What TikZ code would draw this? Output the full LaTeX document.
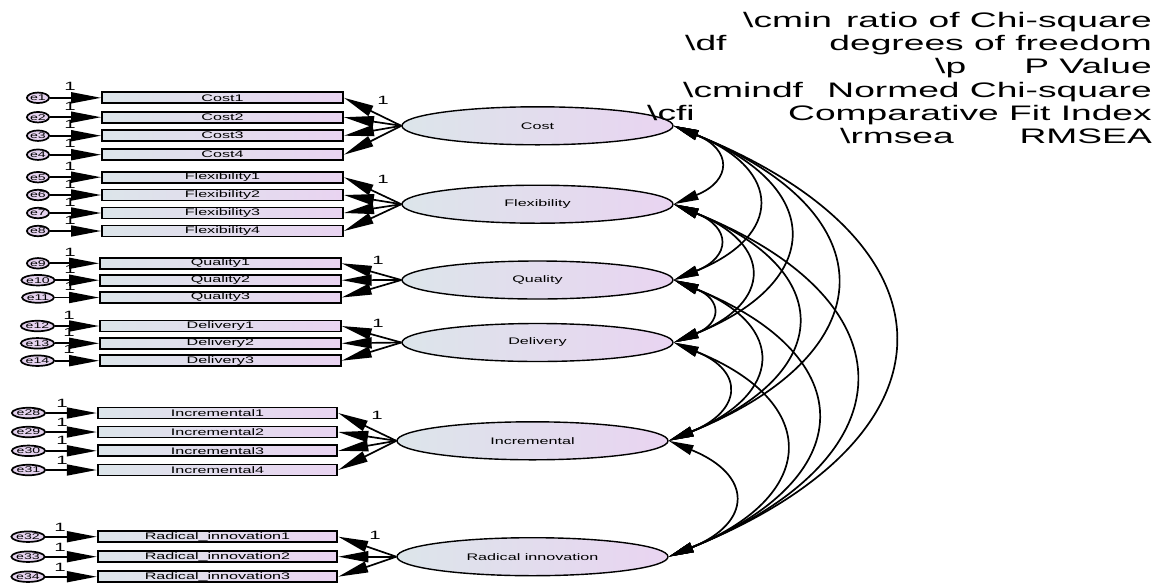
\documentclass[tikz,border=0pt]{standalone}
\usepackage{fontspec}
\setmainfont{Liberation Sans}[FakeStretch=1.7]
\newfontfamily\legfont{Liberation Sans}[FakeStretch=1.77]
\usetikzlibrary{arrows.meta,shapes.geometric}
\definecolor{gl}{RGB}{220,229,234}
\definecolor{gr}{RGB}{233,212,241}
\definecolor{ecol}{RGB}{228,210,238}
\begin{document}
\begin{tikzpicture}[x=1pt,y=-1pt,
  every node/.style={inner sep=0pt},
  obs/.style={draw, line width=1.9pt, left color=gl, right color=gr,
    minimum height=11pt, minimum width=#1, font=\fontsize{9.5}{10}\selectfont},
  lat/.style={ellipse, draw, line width=1.4pt, left color=gl, right color=gr,
    minimum width=271pt, minimum height=38pt, font=\fontsize{9.5}{10}\selectfont},
  err/.style={ellipse, draw, line width=1.7pt, fill=ecol,
    minimum width=22pt, minimum height=10.5pt, font=\fontsize{8.3}{8}\selectfont},
  one/.style={font=\fontsize{12}{12}\selectfont},
  leg/.style={font=\legfont\fontsize{21}{21}\selectfont},
  arr/.style={line width=1.7pt, -{Triangle[length=30pt,width=11pt]}},
  cov/.style={line width=1.7pt, {Triangle[length=25pt,width=10pt]}-{Triangle[length=25pt,width=10pt]}}
]
\useasboundingbox (0,0) rectangle (1163,587);

% latent variables
\node[lat] (cost) at (537.5,125.8) {Cost};
\node[lat] (flex) at (537.5,204.2) {Flexibility};
\node[lat] (qual) at (537.5,280) {Quality};
\node[lat] (deli) at (537.5,342.5) {Delivery};
\node[lat] (incr) at (532.5,440.8) {Incremental};
\node[lat] (radi) at (532.5,556.7) {Radical innovation};

% Cost indicators
\foreach \n/\e/\y in {1/1/97.8,2/2/117.2,3/3/135.7,4/4/154.7}{
  \node[obs=241pt] (cost\n) at (222.5,\y) {Cost\n};
  \node[err] (e\e) at (38,\y) {e\e};
  \node[one] (w\e) at (70,\y-11) {1};
  \draw[arr] (e\e.east) -- (cost\n.west);
  \draw[arr] (cost.west) -- (cost\n.east);
}
% Flexibility indicators
\foreach \n/\e/\y in {1/5/177.2,2/6/195,3/7/213,4/8/231}{
  \node[obs=241pt] (flex\n) at (222.5,\y) {Flexibility\n};
  \node[err] (e\e) at (38,\y) {e\e};
  \node[one] (w\e) at (70,\y-11) {1};
  \draw[arr] (e\e.east) -- (flex\n.west);
  \draw[arr] (flex.west) -- (flex\n.east);
}
% Quality indicators
\foreach \n/\e/\y in {1/9/263.3,2/10/280.2,3/11/297.5}{
  \node[obs=240.7pt] (qual\n) at (220.4,\y) {Quality\n};
  \node[err] (e\e) at (38,\y) {e\e};
  \node[one] (w\e) at (70,\y-11) {1};
  \draw[arr] (e\e.east) -- (qual\n.west);
  \draw[arr] (qual.west) -- (qual\n.east);
}
% Delivery indicators
\foreach \n/\e/\y in {1/12/326,2/13/343.3,3/14/360.7}{
  \node[obs=240.7pt] (deli\n) at (220.4,\y) {Delivery\n};
  \node[err] (e\e) at (37.5,\y) {e\e};
  \node[one] (w\e) at (69,\y-11) {1};
  \draw[arr] (e\e.east) -- (deli\n.west);
  \draw[arr] (deli.west) -- (deli\n.east);
}
% Incremental indicators
\foreach \n/\e/\y in {1/28/413,2/29/432,3/30/450.8,4/31/470}{
  \node[obs=239.6pt] (incr\n) at (217.5,\y) {Incremental\n};
  \node[err] (e\e) at (28.5,\y) {e\e};
  \node[one] (w\e) at (62,\y-10) {1};
  \draw[arr] (e\e.east) -- (incr\n.west);
  \draw[arr] (incr.west) -- (incr\n.east);
}
% Radical innovation indicators
\foreach \n/\e/\y in {1/32/536.7,2/33/556.7,3/34/576.7}{
  \node[obs=239.6pt] (radi\n) at (217.5,\y) {Radical\_innovation\n};
  \node[err] (e\e) at (28,\y) {e\e};
  \node[one] (w\e) at (60,\y-9.5) {1};
  \draw[arr] (e\e.east) -- (radi\n.west);
  \draw[arr] (radi.west) -- (radi\n.east);
}

% fixed loadings
\node[one] (fc) at (383,100) {1};
\node[one] (ff) at (383,179) {1};
\node[one] (fq) at (378,260) {1};
\node[one] (fd) at (378,323) {1};
\node[one] (fi) at (377,415) {1};
\node[one] (fr) at (375,535) {1};

% covariances
\draw[cov] (cost.east) .. controls +(-22:63pt) and +(22:63pt) .. (flex.east);
\draw[cov] (cost.east) .. controls +(-22:118pt) and +(22:118pt) .. (qual.east);
\draw[cov] (cost.east) .. controls +(-22:163pt) and +(22:163pt) .. (deli.east);
\draw[cov] (cost.east) .. controls +(-22:234pt) and +(22:234pt) .. (incr.east);
\draw[cov] (cost.east) .. controls +(-22:317pt) and +(22:317pt) .. (radi.east);
\draw[cov] (flex.east) .. controls +(-22:62pt) and +(22:62pt) .. (qual.east);
\draw[cov] (flex.east) .. controls +(-22:107pt) and +(22:107pt) .. (deli.east);
\draw[cov] (flex.east) .. controls +(-22:178pt) and +(22:178pt) .. (incr.east);
\draw[cov] (flex.east) .. controls +(-22:261pt) and +(22:261pt) .. (radi.east);
\draw[cov] (qual.east) .. controls +(-22:52pt) and +(22:52pt) .. (deli.east);
\draw[cov] (qual.east) .. controls +(-22:123pt) and +(22:123pt) .. (incr.east);
\draw[cov] (qual.east) .. controls +(-22:206pt) and +(22:206pt) .. (radi.east);
\draw[cov] (deli.east) .. controls +(-22:78pt) and +(22:78pt) .. (incr.east);
\draw[cov] (deli.east) .. controls +(-22:161pt) and +(22:161pt) .. (radi.east);
\draw[cov] (incr.east) .. controls +(-22:91pt) and +(22:91pt) .. (radi.east);

% legend
\node[leg, anchor=base west] (k1) at (743,27) {\textbackslash cmin};
\node[leg, anchor=base east] (v1) at (1152,27) {ratio of Chi-square};
\node[leg, anchor=base west] (k2) at (685,50) {\textbackslash df};
\node[leg, anchor=base east] (v2) at (1152,50) {degrees of freedom};
\node[leg, anchor=base west] (k3) at (935,73) {\textbackslash p};
\node[leg, anchor=base east] (v3) at (1152,73) {P Value};
\node[leg, anchor=base west] (k4) at (683,97) {\textbackslash cmindf};
\node[leg, anchor=base east] (v4) at (1152,97) {Normed Chi-square};
\node[leg, anchor=base west] (k5) at (647,120) {\textbackslash cfi};
\node[leg, anchor=base east] (v5) at (1152,120) {Comparative Fit Index};
\node[leg, anchor=base west] (k6) at (840,143) {\textbackslash rmsea};
\node[leg, anchor=base east] (v6) at (1152,143) {RMSEA};
\end{tikzpicture}
\end{document}
